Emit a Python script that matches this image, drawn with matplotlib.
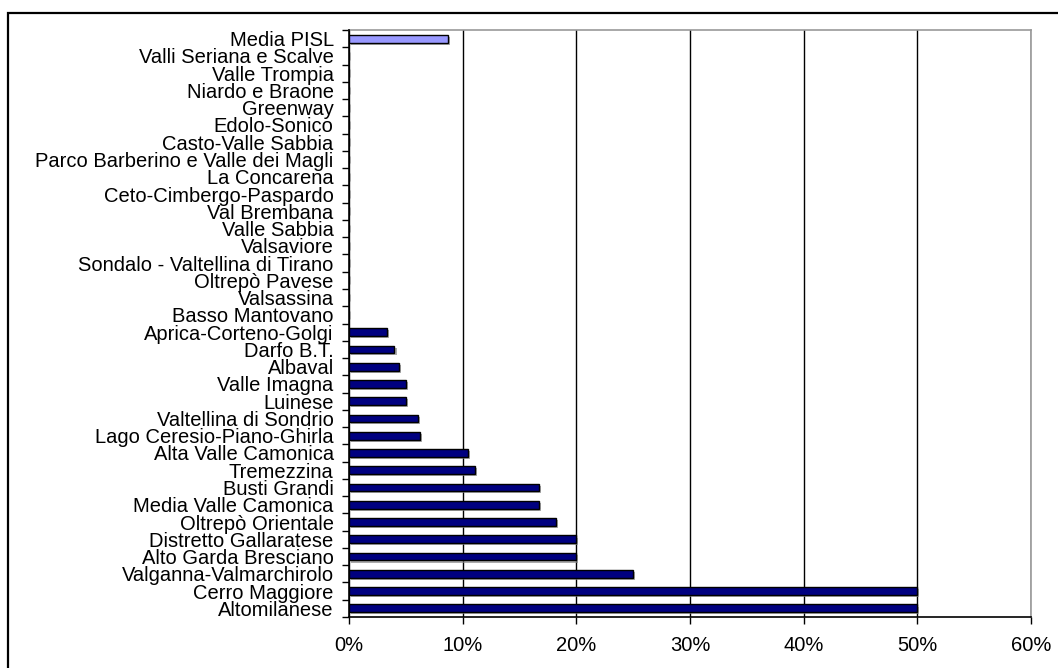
import matplotlib
matplotlib.use("Agg")
import matplotlib.pyplot as plt
from matplotlib.patches import Rectangle
from matplotlib.ticker import FuncFormatter, FixedLocator
import matplotlib.patheffects as pe

plt.rcParams['font.family'] = ['Liberation Sans', 'DejaVu Sans']

# Categories from bottom to top
categories = [
    "Altomilanese", "Cerro Maggiore", "Valganna-Valmarchirolo", "Alto Garda Bresciano",
    "Distretto Gallaratese", "Oltrepò Orientale", "Media Valle Camonica", "Busti Grandi",
    "Tremezzina", "Alta Valle Camonica", "Lago Ceresio-Piano-Ghirla", "Valtellina di Sondrio",
    "Luinese", "Valle Imagna", "Albaval", "Darfo B.T.", "Aprica-Corteno-Golgi",
    "Basso Mantovano", "Valsassina", "Oltrepò Pavese", "Sondalo - Valtellina di Tirano",
    "Valsaviore", "Valle Sabbia", "Val Brembana", "Ceto-Cimbergo-Paspardo", "La Concarena",
    "Parco Barberino e Valle dei Magli", "Casto-Valle Sabbia", "Edolo-Sonico", "Greenway",
    "Niardo e Braone", "Valle Trompia", "Valli Seriana e Scalve", "Media PISL",
]
values = [
    50.0, 50.0, 25.0, 20.0,
    20.0, 18.2, 16.7, 16.7,
    11.1, 10.5, 6.25, 6.07,
    5.0, 5.0, 4.4, 4.0, 3.3,
    0, 0, 0, 0,
    0, 0, 0, 0, 0,
    0, 0, 0, 0,
    0, 0, 0, 8.7,
]
x_ticks = [0, 10, 20, 30, 40, 50, 60]

W, H = 1058, 668
fig = plt.figure(figsize=(W / 100, H / 100), dpi=100)
fig.patch.set_facecolor('white')

# outer frame (only top/left visible in reference)
fig.add_artist(Rectangle((8 / W, -0.1), 1.2, 1 - 13 / H + 0.1, transform=fig.transFigure,
                         fill=False, edgecolor='black', linewidth=1.6))

ax = fig.add_axes([349 / W, 1 - 617 / H, (1031 - 349) / W, (617 - 30) / H])
n = len(categories)
ypos = list(range(n))
colors = ['#000080'] * (n - 1) + ['#9999FF']
bars = ax.barh(ypos, values, height=0.45, color=colors, edgecolor='black', linewidth=1.0, zorder=3)
for b, v in zip(bars, values):
    if v > 0:
        b.set_path_effects([pe.SimplePatchShadow(offset=(1.5, -1.5), shadow_rgbFace='#888888', alpha=0.7),
                            pe.Normal()])

ax.set_xlim(0, 60)
ax.set_ylim(-0.5, n - 0.5)
ax.set_xticks(x_ticks)
ax.xaxis.set_major_formatter(FuncFormatter(lambda v, p: f"{int(v)}%"))
ax.xaxis.grid(True, color='black', linewidth=1.0, zorder=1)
ax.set_axisbelow(True)

ax.set_yticks(ypos)
ax.set_yticklabels(categories)
ax.yaxis.set_minor_locator(FixedLocator([i - 0.5 for i in range(n + 1)]))
ax.tick_params(axis='y', which='major', length=0, pad=11, labelsize=14.5)
ax.tick_params(axis='y', which='minor', length=5, width=1, direction='out', color='black')
ax.tick_params(axis='x', which='major', length=5, width=1, direction='out', pad=9, labelsize=14.5)

for s in ['top', 'right']:
    ax.spines[s].set_color('#999999')
    ax.spines[s].set_linewidth(1.2)
for s in ['left', 'bottom']:
    ax.spines[s].set_color('black')
    ax.spines[s].set_linewidth(1.2)
    ax.spines[s].set_zorder(4)

fig.savefig('out.png', dpi=100)
